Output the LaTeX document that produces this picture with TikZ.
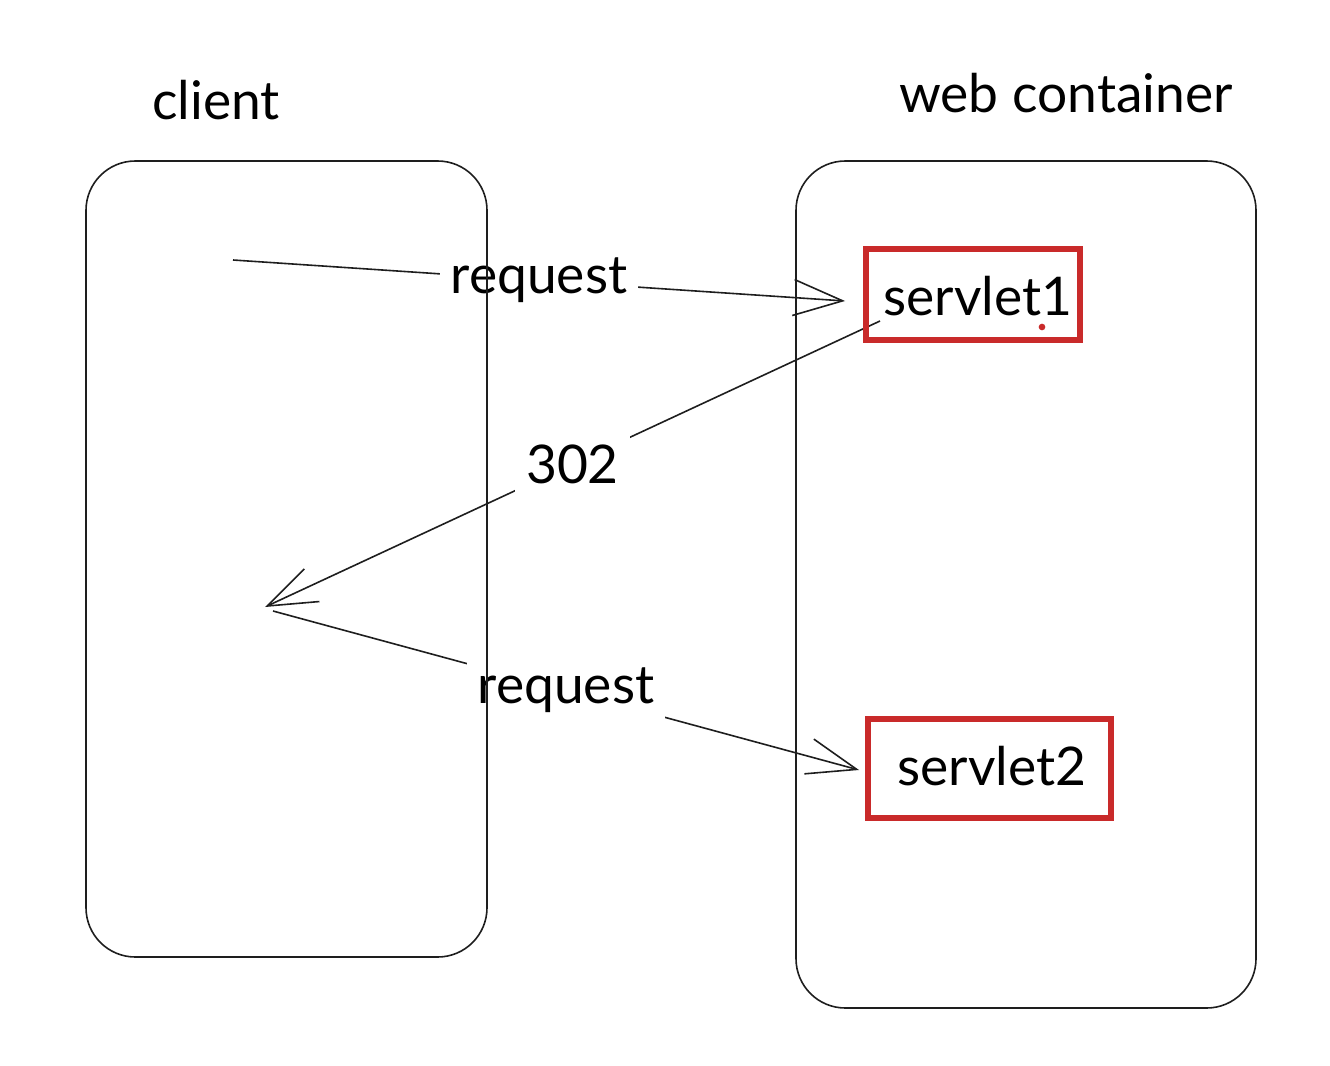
\documentclass[tikz,border=0pt]{standalone}
\usepackage{fontspec}
\setmainfont{Lato}
\usetikzlibrary{arrows.meta}
\pgfdeclarelayer{background}
\pgfsetlayers{background,main}
\definecolor{exred}{HTML}{C92A2A}
\definecolor{exblack}{HTML}{1E1E1E}
\tikzset{
  frame/.style={draw=exblack, line width=1.2pt, rounded corners=37pt},
  servlet/.style={draw=exred, line width=3.8pt, text=black, inner sep=0pt},
  big/.style={font=\fontsize{40}{42}\selectfont, text=black},
  conn/.style={draw=exblack, line width=1.2pt, -{Straight Barb[length=37pt,width=27pt,line width=1.2pt]}},
  lbl/.style={fill=white, big, inner xsep=8pt, inner ysep=6pt}
}
\begin{document}
\begin{tikzpicture}[x=0.75pt,y=-0.75pt]
\useasboundingbox (0,0) rectangle (1330,1066);
% frames
\node[frame, minimum width=300.75pt, minimum height=597pt] (client) at (286.5,559) {};
\node[frame, minimum width=345pt, minimum height=635.25pt] (container) at (1026,584.5) {};
\node[big] (clientlbl) at (216,100) {client};
\node[big] (containerlbl) at (1066,93) {web container};
% servlets
\node[servlet, minimum width=160.5pt, minimum height=68.25pt] (s1) at (973,294.5) {};
\node[big] (s1t) at (978,296) {servlet1};
\fill[exred] (1042,327) circle (2.5pt);
\node[servlet, minimum width=182.25pt, minimum height=74.25pt] (s2) at (989.5,768.5) {};
\node[big] (s2t) at (992,766) {servlet2};
% connector ends
\coordinate (a1s) at (233,260);
\coordinate (a1e) at (845,301);
\coordinate (a2s) at (880,321);
\coordinate (a2e) at (265,607);
\coordinate (a3s) at (273,611);
\coordinate (a3e) at (859,770);
\begin{pgfonlayer}{background}
\draw[conn] (a1s) -- node[lbl, pos=0.5] (l1) {request} (a1e);
\draw[conn] (a2s) -- node[lbl, pos=0.5] (l2) {302} (a2e);
\draw[conn] (a3s) -- node[lbl, pos=0.5] (l3) {request} (a3e);
\end{pgfonlayer}
\end{tikzpicture}
\end{document}
